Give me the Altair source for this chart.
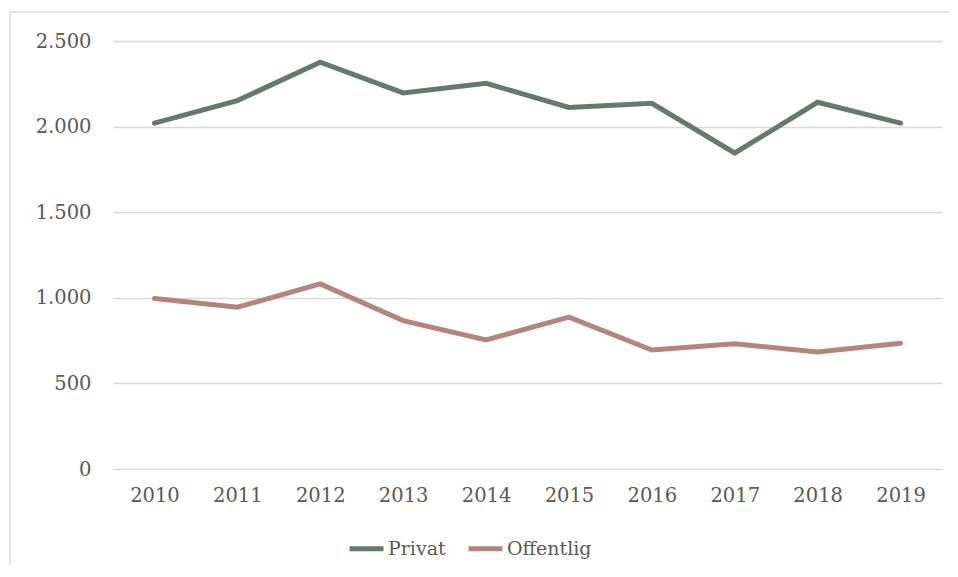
import altair as alt
import pandas as pd

years = ["2010", "2011", "2012", "2013", "2014", "2015", "2016", "2017", "2018", "2019"]
privat = [2020, 2152, 2376, 2197, 2253, 2112, 2136, 1846, 2142, 2020]
offentlig = [996, 945, 1081, 867, 754, 887, 695, 731, 684, 735]
series = ["Privat", "Offentlig"]
colors = ["#647a6e", "#b5857c"]
y_ticks = [0, 500, 1000, 1500, 2000, 2500]

rows = []
for i, y in enumerate(years):
    rows.append({"year": y, "serie": "Privat", "value": privat[i]})
    rows.append({"year": y, "serie": "Offentlig", "value": offentlig[i]})
df = pd.DataFrame(rows)

FONT = "DejaVu Serif"
TXT = "#595959"

lines = alt.Chart(df).mark_line(strokeWidth=5, strokeCap="round").encode(
    x=alt.X("year:O", title=None,
            axis=alt.Axis(labelAngle=0, ticks=False, domain=False, grid=False,
                          labelPadding=17, labelFontSize=19.5, labelFont=FONT,
                          labelColor=TXT)),
    y=alt.Y("value:Q", title=None,
            scale=alt.Scale(domain=[0, 2500], nice=False),
            axis=alt.Axis(values=y_ticks, ticks=False, domain=False, grid=True,
                          gridColor="#d9d9d9", gridWidth=1.5,
                          labelPadding=22, labelFontSize=19.5, labelFont=FONT,
                          labelColor=TXT,
                          labelExpr="replace(format(datum.value, ','), ',', '.')")),
    color=alt.Color("serie:N", title=None,
                    scale=alt.Scale(domain=series, range=colors),
                    sort=series,
                    legend=alt.Legend(orient="none", legendX=234, legendY=488,
                                      direction="horizontal",
                                      symbolType="stroke", symbolStrokeWidth=5,
                                      symbolSize=1156, labelOffset=2,
                                      columnPadding=12,
                                      labelFont=FONT, labelFontSize=19,
                                      labelColor=TXT)),
    detail="serie:N",
)

frame_df = pd.DataFrame({"a": [0]})
frame_left = alt.Chart(frame_df).mark_rule(color="#d9d9d9", strokeWidth=1.5).encode(
    x=alt.value(-103), y=alt.value(-29), y2=alt.value(524),
)
frame_top = alt.Chart(frame_df).mark_rule(color="#d9d9d9", strokeWidth=1.5).encode(
    x=alt.value(-103), x2=alt.value(837), y=alt.value(-29),
)

chart = alt.layer(frame_left, frame_top, lines).properties(
    width=829, height=428,
    padding={"left": 105, "top": 33, "right": 8, "bottom": 96},
    autosize="none",
).configure_view(stroke=None)

chart.save("out.html", embed_options={"renderer": "svg", "actions": False})
